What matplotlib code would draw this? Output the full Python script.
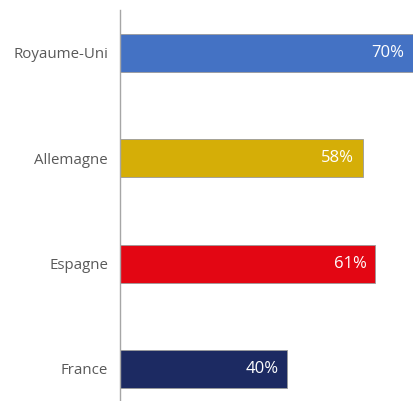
import matplotlib
matplotlib.use("Agg")
import matplotlib.pyplot as plt

categories = ["Royaume-Uni", "Allemagne", "Espagne", "France"]
values = [70, 58, 61, 40]
colors = ["#4472C4", "#D5AE07", "#E30613", "#1C2A62"]

plt.rcParams['font.family'] = ['Open Sans', 'DejaVu Sans']

fig = plt.figure(figsize=(4.13, 4.01), dpi=100)
ax = fig.add_axes([120/413, 0, 293/413, 391/401])

pos = list(range(len(categories)))
bars = ax.barh(pos, values, height=0.36, color=colors, edgecolor="#9a9a9a", linewidth=0.6)
ax.set_xlim(0, 70)
ax.set_ylim(3.305, -0.408)

for b, v in zip(bars, values):
    ax.text(v - 2.0, b.get_y() + b.get_height()/2, f"{v}%", ha="right", va="center",
            color="white", fontsize=12)

ax.set_yticks(pos)
ax.set_yticklabels(categories, fontsize=10.8, color="#595959")
ax.tick_params(axis="y", length=0, pad=8.6)
ax.set_xticks([])
for s in ["top", "right", "bottom"]:
    ax.spines[s].set_visible(False)
ax.spines["left"].set_color("#a6a6a6")
ax.spines["left"].set_linewidth(1)

fig.savefig("out.png", dpi=100)
